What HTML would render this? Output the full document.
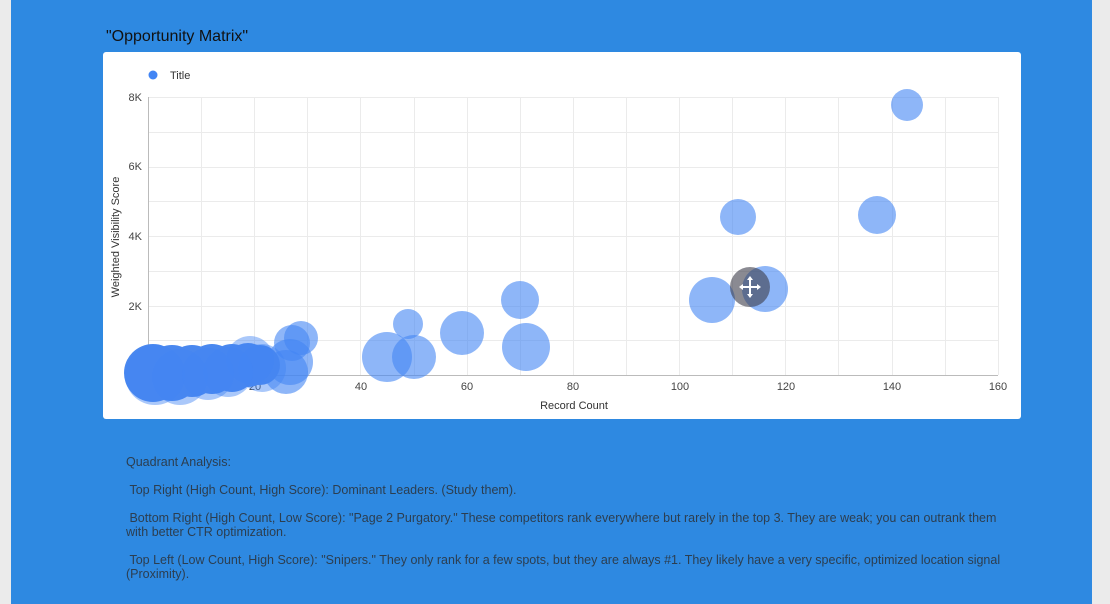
<!DOCTYPE html><html><head><style>
body{margin:0;width:1110px;height:604px;background:#ebebeb;overflow:hidden;font-family:"Liberation Sans",Arial,sans-serif}
#bg{position:absolute;left:11px;top:0;width:1081px;height:604px;background:#2e89e1}
.t{position:absolute;color:#2c3e50;font-size:12.5px;line-height:14px}
</style></head><body>
<div id="bg"></div>
<div style="position:absolute;left:106px;top:28px;font-size:16px;color:#111">"Opportunity Matrix"</div>
<svg style="position:absolute;left:0;top:0" width="1110" height="604">
<rect x="103" y="52" width="918" height="367" rx="3" fill="#fff"/>
<g stroke="#ebebeb" stroke-width="1">
<line x1="148" y1="97.5" x2="998" y2="97.5"/><line x1="148" y1="132.5" x2="998" y2="132.5"/><line x1="148" y1="167.5" x2="998" y2="167.5"/><line x1="148" y1="201.5" x2="998" y2="201.5"/><line x1="148" y1="236.5" x2="998" y2="236.5"/><line x1="148" y1="271.5" x2="998" y2="271.5"/><line x1="148" y1="306.5" x2="998" y2="306.5"/><line x1="148" y1="340.5" x2="998" y2="340.5"/>
<line x1="201.5" y1="97" x2="201.5" y2="375"/><line x1="254.5" y1="97" x2="254.5" y2="375"/><line x1="307.5" y1="97" x2="307.5" y2="375"/><line x1="360.5" y1="97" x2="360.5" y2="375"/><line x1="414.5" y1="97" x2="414.5" y2="375"/><line x1="467.5" y1="97" x2="467.5" y2="375"/><line x1="520.5" y1="97" x2="520.5" y2="375"/><line x1="573.5" y1="97" x2="573.5" y2="375"/><line x1="626.5" y1="97" x2="626.5" y2="375"/><line x1="679.5" y1="97" x2="679.5" y2="375"/><line x1="732.5" y1="97" x2="732.5" y2="375"/><line x1="785.5" y1="97" x2="785.5" y2="375"/><line x1="838.5" y1="97" x2="838.5" y2="375"/><line x1="892.5" y1="97" x2="892.5" y2="375"/><line x1="945.5" y1="97" x2="945.5" y2="375"/><line x1="998.5" y1="97" x2="998.5" y2="375"/>
</g>
<line x1="148.5" y1="97" x2="148.5" y2="375" stroke="#bbb"/><line x1="148" y1="375.5" x2="998" y2="375.5" stroke="#bbb"/>
<g font-size="11" fill="#444" text-anchor="end">
<text x="142" y="101">8K</text><text x="142" y="170">6K</text><text x="142" y="240">4K</text><text x="142" y="310">2K</text></g>
<g font-size="11" fill="#444" text-anchor="middle">
<text x="255" y="390">20</text><text x="361" y="390">40</text><text x="467" y="390">60</text><text x="573" y="390">80</text><text x="680" y="390">100</text><text x="786" y="390">120</text><text x="892" y="390">140</text><text x="998" y="390">160</text></g>
<text x="574" y="409" font-size="11" fill="#333" text-anchor="middle">Record Count</text>
<text transform="translate(119,237) rotate(-90)" font-size="11" fill="#333" text-anchor="middle">Weighted Visibility Score</text>
<circle cx="153" cy="75" r="4.5" fill="#4285f4"/><text x="170" y="79" font-size="11" fill="#333">Title</text>
<g fill="#4285f4" fill-opacity="0.6">
<circle cx="907" cy="105" r="16"/><circle cx="738" cy="217" r="18"/><circle cx="877" cy="215" r="19"/>
<circle cx="712" cy="300" r="23"/><circle cx="765" cy="289" r="23"/>
<circle cx="520" cy="300" r="19"/><circle cx="526" cy="347" r="24"/><circle cx="462" cy="333" r="22"/>
<circle cx="408" cy="324" r="15"/><circle cx="387" cy="357" r="25"/><circle cx="414" cy="357" r="22"/>
<circle cx="301" cy="338" r="17"/><circle cx="292" cy="343" r="18"/><circle cx="290" cy="362" r="23"/><circle cx="286" cy="372" r="22"/>
</g>
<g fill="#4a88ef">
<circle cx="153" cy="373" r="29"/><circle cx="172" cy="373" r="28"/><circle cx="192" cy="371" r="26"/><circle cx="212" cy="369" r="25"/><circle cx="232" cy="368" r="24"/><circle cx="248" cy="365" r="22"/><circle cx="260" cy="365" r="20"/>
</g>
<g fill="#4285f4" fill-opacity="0.45">
<circle cx="262" cy="368" r="24"/><circle cx="250" cy="360" r="24"/><circle cx="228" cy="372" r="25"/><circle cx="180" cy="377" r="28"/><circle cx="155" cy="375" r="30"/><circle cx="208" cy="374" r="26"/>
</g>
<circle cx="750" cy="287" r="20" fill="#3c3c4a" fill-opacity="0.6"/>
<g stroke="#fff" stroke-width="2"><line x1="741" y1="287" x2="759" y2="287"/><line x1="750" y1="278" x2="750" y2="296"/></g>
<g fill="#fff"><path d="M739 287l4-3v6z"/><path d="M761 287l-4-3v6z"/><path d="M750 276l-3 4h6z"/><path d="M750 298l-3-4h6z"/></g>
</svg>
<div class="t" style="left:126px;top:455px">Quadrant Analysis:</div>
<div class="t" style="left:126px;top:483px">&nbsp;Top Right (High Count, High Score): Dominant Leaders. (Study them).</div>
<div class="t" style="left:126px;top:511px;width:885px">&nbsp;Bottom Right (High Count, Low Score): "Page 2 Purgatory." These competitors rank everywhere but rarely in the top 3. They are weak; you can outrank them with better CTR optimization.</div>
<div class="t" style="left:126px;top:553px;width:885px">&nbsp;Top Left (Low Count, High Score): "Snipers." They only rank for a few spots, but they are always #1. They likely have a very specific, optimized location signal (Proximity).</div>
</body></html>
